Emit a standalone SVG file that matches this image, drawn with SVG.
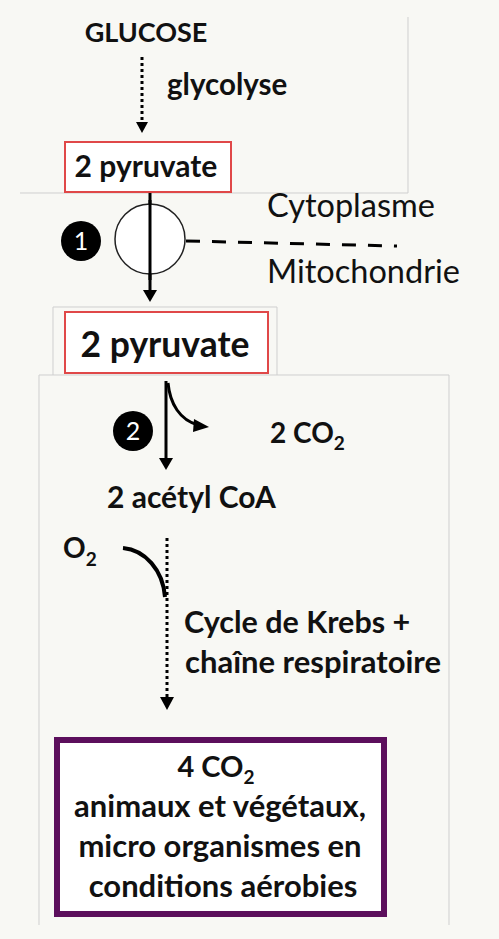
<svg xmlns="http://www.w3.org/2000/svg" width="499" height="939" viewBox="0 0 499 939">
<defs>
<style>
.t{font-family:Lato,"Open Sans",sans-serif;font-weight:bold;fill:#111;}
.n{font-family:Lato,"Open Sans",sans-serif;font-weight:normal;fill:#111;}
.panel{fill:none;stroke:#cfcfcf;stroke-width:1;}
.ln{fill:none;stroke:#000;stroke-width:3;}
.dot{fill:none;stroke:#000;stroke-width:3;stroke-dasharray:3 3;}
</style>
</defs>
<rect width="499" height="939" fill="#f8f8f4"/>
<g id="panels">
<polyline class="panel" points="408,17 408,193 20,193"/>
<polyline class="panel" points="53,375 53,307 277,307 277,375"/>
<polyline class="panel" points="39,925 39,375 449,375 449,925"/>
</g>
<g id="connectors">
<line class="dot" x1="142" y1="57" x2="142" y2="122"/>
<path d="M136,122 L148,122 L142,133 z" fill="#000"/>
<line class="ln" x1="150" y1="193" x2="150" y2="291"/>
<path d="M143,290 L157,290 L150,302 z" fill="#000"/>
<line class="ln" x1="166" y1="381" x2="166" y2="459"/>
<path d="M159,458 L173,458 L166,470 z" fill="#000"/>
<path class="ln" d="M168,383 C170,404 180,420 198,425"/>
<path d="M194,419 L209,427 L193,432 z" fill="#000"/>
<line class="dot" x1="167" y1="538" x2="167" y2="697"/>
<path d="M160,697 L174,697 L167,710 z" fill="#000"/>
<path d="M123,548 C145,550 163,570 165,597" fill="none" stroke="#000" stroke-width="4"/>
<line x1="186" y1="241" x2="397" y2="246" stroke="#000" stroke-width="3" stroke-dasharray="14 12"/>
</g>
<g id="glucose"><text class="t" x="146" y="42" font-size="27" text-anchor="middle">GLUCOSE</text></g>
<g id="glycolyse"><text class="t" x="167" y="95" font-size="29.5">glycolyse</text></g>
<g id="pyruvate1">
<rect x="65" y="142" width="166" height="50" fill="#fff" stroke="#e04848" stroke-width="2"/>
<text class="t" x="146" y="177" font-size="30" text-anchor="middle">2 pyruvate</text>
</g>
<g id="transporter"><circle cx="150" cy="239" r="35" fill="#fff" stroke="#222" stroke-width="1.5"/>
<line class="ln" x1="150" y1="200" x2="150" y2="280"/></g>
<g id="step1"><circle cx="81" cy="241" r="20" fill="#000"/><text x="81" y="250" font-family="Lato,sans-serif" font-size="25" fill="#fff" text-anchor="middle">1</text></g>
<g id="cytoplasme"><text class="n" x="267" y="217" font-size="32.5">Cytoplasme</text></g>
<g id="mitochondrie"><text class="n" x="267" y="283" font-size="32.5">Mitochondrie</text></g>
<g id="pyruvate2">
<rect x="65" y="312" width="203" height="61" fill="#fff" stroke="#e04848" stroke-width="2"/>
<text class="t" x="165" y="357" font-size="35.5" text-anchor="middle">2 pyruvate</text>
</g>
<g id="step2"><circle cx="133" cy="431" r="20" fill="#000"/><text x="133" y="440" font-family="Lato,sans-serif" font-size="25" fill="#fff" text-anchor="middle">2</text></g>
<g id="co2"><text class="t" x="270" y="443" font-size="28">2 CO<tspan font-size="19" dy="7">2</tspan></text></g>
<g id="acetylcoa"><text class="t" x="107" y="508" font-size="30">2 acétyl CoA</text></g>
<g id="o2"><text class="t" x="63" y="558" font-size="28">O<tspan font-size="19" dy="8">2</tspan></text></g>
<g id="krebs">
<text class="t" x="184" y="633" font-size="30.5">Cycle de Krebs +</text>
<text class="t" x="185" y="673" font-size="31">chaîne respiratoire</text>
</g>
<g id="result">
<rect x="57" y="740" width="327" height="174" fill="#fff" stroke="#5c0f5c" stroke-width="6"/>
<text class="t" x="216" y="777" font-size="29" text-anchor="middle">4 CO<tspan font-size="19" dy="7">2</tspan></text>
<text class="t" x="220" y="817" font-size="31" text-anchor="middle">animaux et végétaux,</text>
<text class="t" x="220" y="857" font-size="31" text-anchor="middle">micro organismes en</text>
<text class="t" x="223" y="897" font-size="31" text-anchor="middle">conditions aérobies</text>
</g>
</svg>
